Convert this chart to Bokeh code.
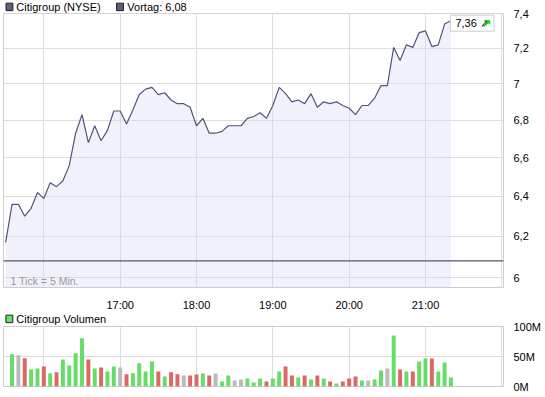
from bokeh.plotting import figure
from bokeh.layouts import column
from bokeh.models import (Range1d, FixedTicker, CustomJSTickFormatter, Span, Label)
from bokeh.core.properties import value
from bokeh.embed import file_html
from bokeh.resources import INLINE

# ---------------- data ----------------
STEP_MIN = 5                      # 1 tick = 5 minutes, first point 15:30
PRICE = [6.17, 6.36, 6.36, 6.30, 6.34, 6.42, 6.39, 6.47, 6.45, 6.48,
         6.56, 6.73, 6.83, 6.68, 6.77, 6.69, 6.745, 6.85, 6.85, 6.78,
         6.855, 6.94, 6.97, 6.98, 6.94, 6.95, 6.91, 6.89, 6.89, 6.87,
         6.77, 6.81, 6.73, 6.73, 6.74, 6.77, 6.77, 6.77, 6.81, 6.82,
         6.84, 6.81, 6.88, 6.98, 6.945, 6.90, 6.91, 6.89, 6.945, 6.87,
         6.90, 6.89, 6.90, 6.88, 6.865, 6.83, 6.88, 6.88, 6.92, 6.99,
         6.99, 7.205, 7.13, 7.22, 7.205, 7.29, 7.30, 7.21, 7.22, 7.34, 7.36]
VOLUME_M = [53.9, 52.2, 47.2, 28.3, 30.0, 33.3, 22.2, 23.9, 45.0, 35.0,
            55.6, 80.6, 45.0, 30.0, 31.7, 25.0, 33.3, 31.7, 20.6, 22.2,
            38.9, 25.0, 41.7, 25.0, 16.7, 23.9, 20.3, 18.3, 18.3, 20.0,
            21.7, 18.3, 21.7, 8.3, 18.3, 10.0, 11.7, 13.3, 6.7, 13.3,
            8.3, 13.3, 25.0, 33.3, 18.3, 15.0, 18.3, 11.7, 18.3, 13.3,
            8.3, 5.0, 8.3, 13.3, 16.7, 10.0, 10.0, 11.7, 26.7, 30.0,
            85.0, 28.3, 25.0, 25.0, 41.7, 46.7, 46.7, 25.0, 40.0, 15.0]
PREV_CLOSE = 6.08
HOUR_TICKS = [30, 90, 150, 210, 270, 330, 390]          # minutes after 15:30
HOUR_LABELS = ["", "17:00", "18:00", "19:00", "20:00", "21:00", ""]
PRICE_TICKS = [6.0, 6.2, 6.4, 6.6, 6.8, 7.0, 7.2, 7.4]
PRICE_LABELS = ["6", "6,2", "6,4", "6,6", "6,8", "7", "7,2", "7,4"]
VOL_TICKS = [0, 50, 100]
VOL_LABELS = ["0M", "50M", "100M"]
LEGEND_PRICE = ["Citigroup (NYSE)", "Vortag: " + f"{PREV_CLOSE:.2f}".replace(".", ",")]
LEGEND_VOL = ["Citigroup Volumen"]

# ---------------- styles ----------------
FONT = "Liberation Sans"
LINE = "#4f5577"
SQUARE = "#5a5f7a"
GREEN = "#66dd66"
RED = "#dd6666"
GRAY = "#bbbbbb"
GRID = "#dddddd"
FRAME = "#cccccc"
W = 545
OVERLAP = 6


def de(v):
    return f"{v:.2f}".replace(".", ",")


def fmt(tick_values, tick_labels):
    return CustomJSTickFormatter(args=dict(tv=tick_values, tl=tick_labels), code="""
        for (let i = 0; i < tv.length; i++) {
            if (Math.abs(tick - tv[i]) < 1e-6) { return tl[i]; }
        }
        return "";
    """)


t_price = [STEP_MIN * i for i in range(len(PRICE))]
t_vol = t_price[1:]
bar_colors = []
for a, b in zip(PRICE[:-1], PRICE[1:]):
    if b > a + 1e-9:
        bar_colors.append(GREEN)
    elif b < a - 1e-9:
        bar_colors.append(RED)
    else:
        bar_colors.append(GRAY)

x_range = Range1d(-1.7, 391.3)


def style(p):
    p.outline_line_color = FRAME
    p.background_fill_color = "white"
    p.border_fill_alpha = 0
    p.xgrid.grid_line_color = GRID
    p.ygrid.grid_line_color = GRID
    for ax in p.axis:
        ax.axis_line_color = None
        ax.major_tick_line_color = None
        ax.minor_tick_line_color = None
        ax.major_label_text_font = FONT
        ax.major_label_text_font_size = "11px"
        ax.major_label_text_color = "#000000"
    p.title.visible = False


def legend_strip(labels, square_x, text_x, fill, sq_y, txt_y):
    # a 13px high strip (pixel coordinates) holding the legend squares and labels
    lg = figure(width=W, height=13, x_range=Range1d(0, W), y_range=Range1d(0, 13),
                x_axis_location=None, y_axis_location=None,
                toolbar_location=None, output_backend="svg",
                min_border_left=0, min_border_right=0, min_border_top=0, min_border_bottom=0)
    lg.outline_line_color = None
    lg.grid.visible = False
    lg.title.visible = False
    lg.rect(x=square_x, y=[sq_y] * len(labels), width=7.5, height=7.5,
            fill_color=fill, line_color="#222222", line_width=1)
    lg.text(x=text_x, y=[txt_y] * len(labels), text=labels, text_font=value(FONT),
            text_font_size="11px", text_baseline="middle", text_color="#000000")
    return lg


# ---------------- legend strip (price) ----------------
leg1 = legend_strip(LEGEND_PRICE, [6.5, 127], [14, 135], SQUARE, 6.6, 6.6)

# ---------------- price chart ----------------
p1 = figure(width=W, height=300 + OVERLAP, x_range=x_range, y_range=Range1d(5.953, 7.402),
            y_axis_type="log", y_axis_location="right",
            toolbar_location=None, output_backend="svg",
            min_border_left=3, min_border_right=42, min_border_top=OVERLAP, min_border_bottom=19,
            margin=(-OVERLAP, 0, 0, 0))
style(p1)

xt = FixedTicker(ticks=HOUR_TICKS, minor_ticks=[])
p1.xaxis.ticker = xt
p1.xgrid.ticker = xt
p1.xaxis.formatter = fmt(HOUR_TICKS, HOUR_LABELS)
p1.xaxis.major_label_standoff = 5

yt = FixedTicker(ticks=PRICE_TICKS, minor_ticks=[])
p1.yaxis.ticker = yt
p1.ygrid.ticker = yt
p1.yaxis.formatter = fmt(PRICE_TICKS, PRICE_LABELS)
p1.yaxis.major_label_standoff = 4

p1.varea(x=t_price, y1=p1.y_range.start, y2=PRICE, fill_color="#d8d8f5", fill_alpha=0.35)
p1.line(t_price, PRICE, line_color=LINE, line_width=1.2)
p1.add_layout(Span(location=PREV_CLOSE, dimension="width", line_color=LINE, line_width=1.3))

p1.add_layout(Label(x=7, y=7, x_units="screen", y_units="screen", text="1 Tick = 5 Min.",
                    text_baseline="middle", text_font=FONT, text_font_size="10.5px",
                    text_color="#9a9a9a"))

last_txt = "\u00a0" + de(PRICE[-1]) + " \u2197\u00a0"
p1.add_layout(Label(x=t_price[-1], y=PRICE[-1], x_offset=43, y_offset=-2.5, text=last_txt,
                    text_align="right", text_baseline="middle", text_font=FONT,
                    text_font_size="11px", text_color="#000000",
                    background_fill_color="white", border_line_color="#cccccc", padding=2))
p1.add_layout(Label(x=t_price[-1], y=PRICE[-1], x_offset=43, y_offset=-2.5, text="\u2197\u00a0",
                    text_align="right", text_baseline="middle", text_font=FONT,
                    text_font_size="11px", text_font_style="bold", text_color="#00dd00"))

# ---------------- legend strip (volume) ----------------
leg2 = legend_strip(LEGEND_VOL, [6.4], [14], GREEN, 7.6, 7.4)

# ---------------- volume chart ----------------
p2 = figure(width=W, height=71 + OVERLAP, x_range=x_range, y_range=Range1d(0, 100),
            y_axis_location="right", toolbar_location=None, output_backend="svg",
            min_border_left=3, min_border_right=42, min_border_top=OVERLAP, min_border_bottom=11,
            margin=(-OVERLAP, 0, 0, 0))
style(p2)
xt2 = FixedTicker(ticks=HOUR_TICKS, minor_ticks=[])
p2.xaxis.ticker = xt2
p2.xgrid.ticker = xt2
p2.xaxis.visible = False
yt2 = FixedTicker(ticks=VOL_TICKS, minor_ticks=[])
p2.yaxis.ticker = yt2
p2.ygrid.ticker = yt2
p2.yaxis.formatter = fmt(VOL_TICKS, VOL_LABELS)
p2.yaxis.major_label_standoff = 4

p2.vbar(x=t_vol, top=VOLUME_M, width=3.1, fill_color=bar_colors, line_color=None)

layout = column(leg1, p1, leg2, p2, spacing=0)
open("out.html", "w").write(file_html(layout, INLINE))
